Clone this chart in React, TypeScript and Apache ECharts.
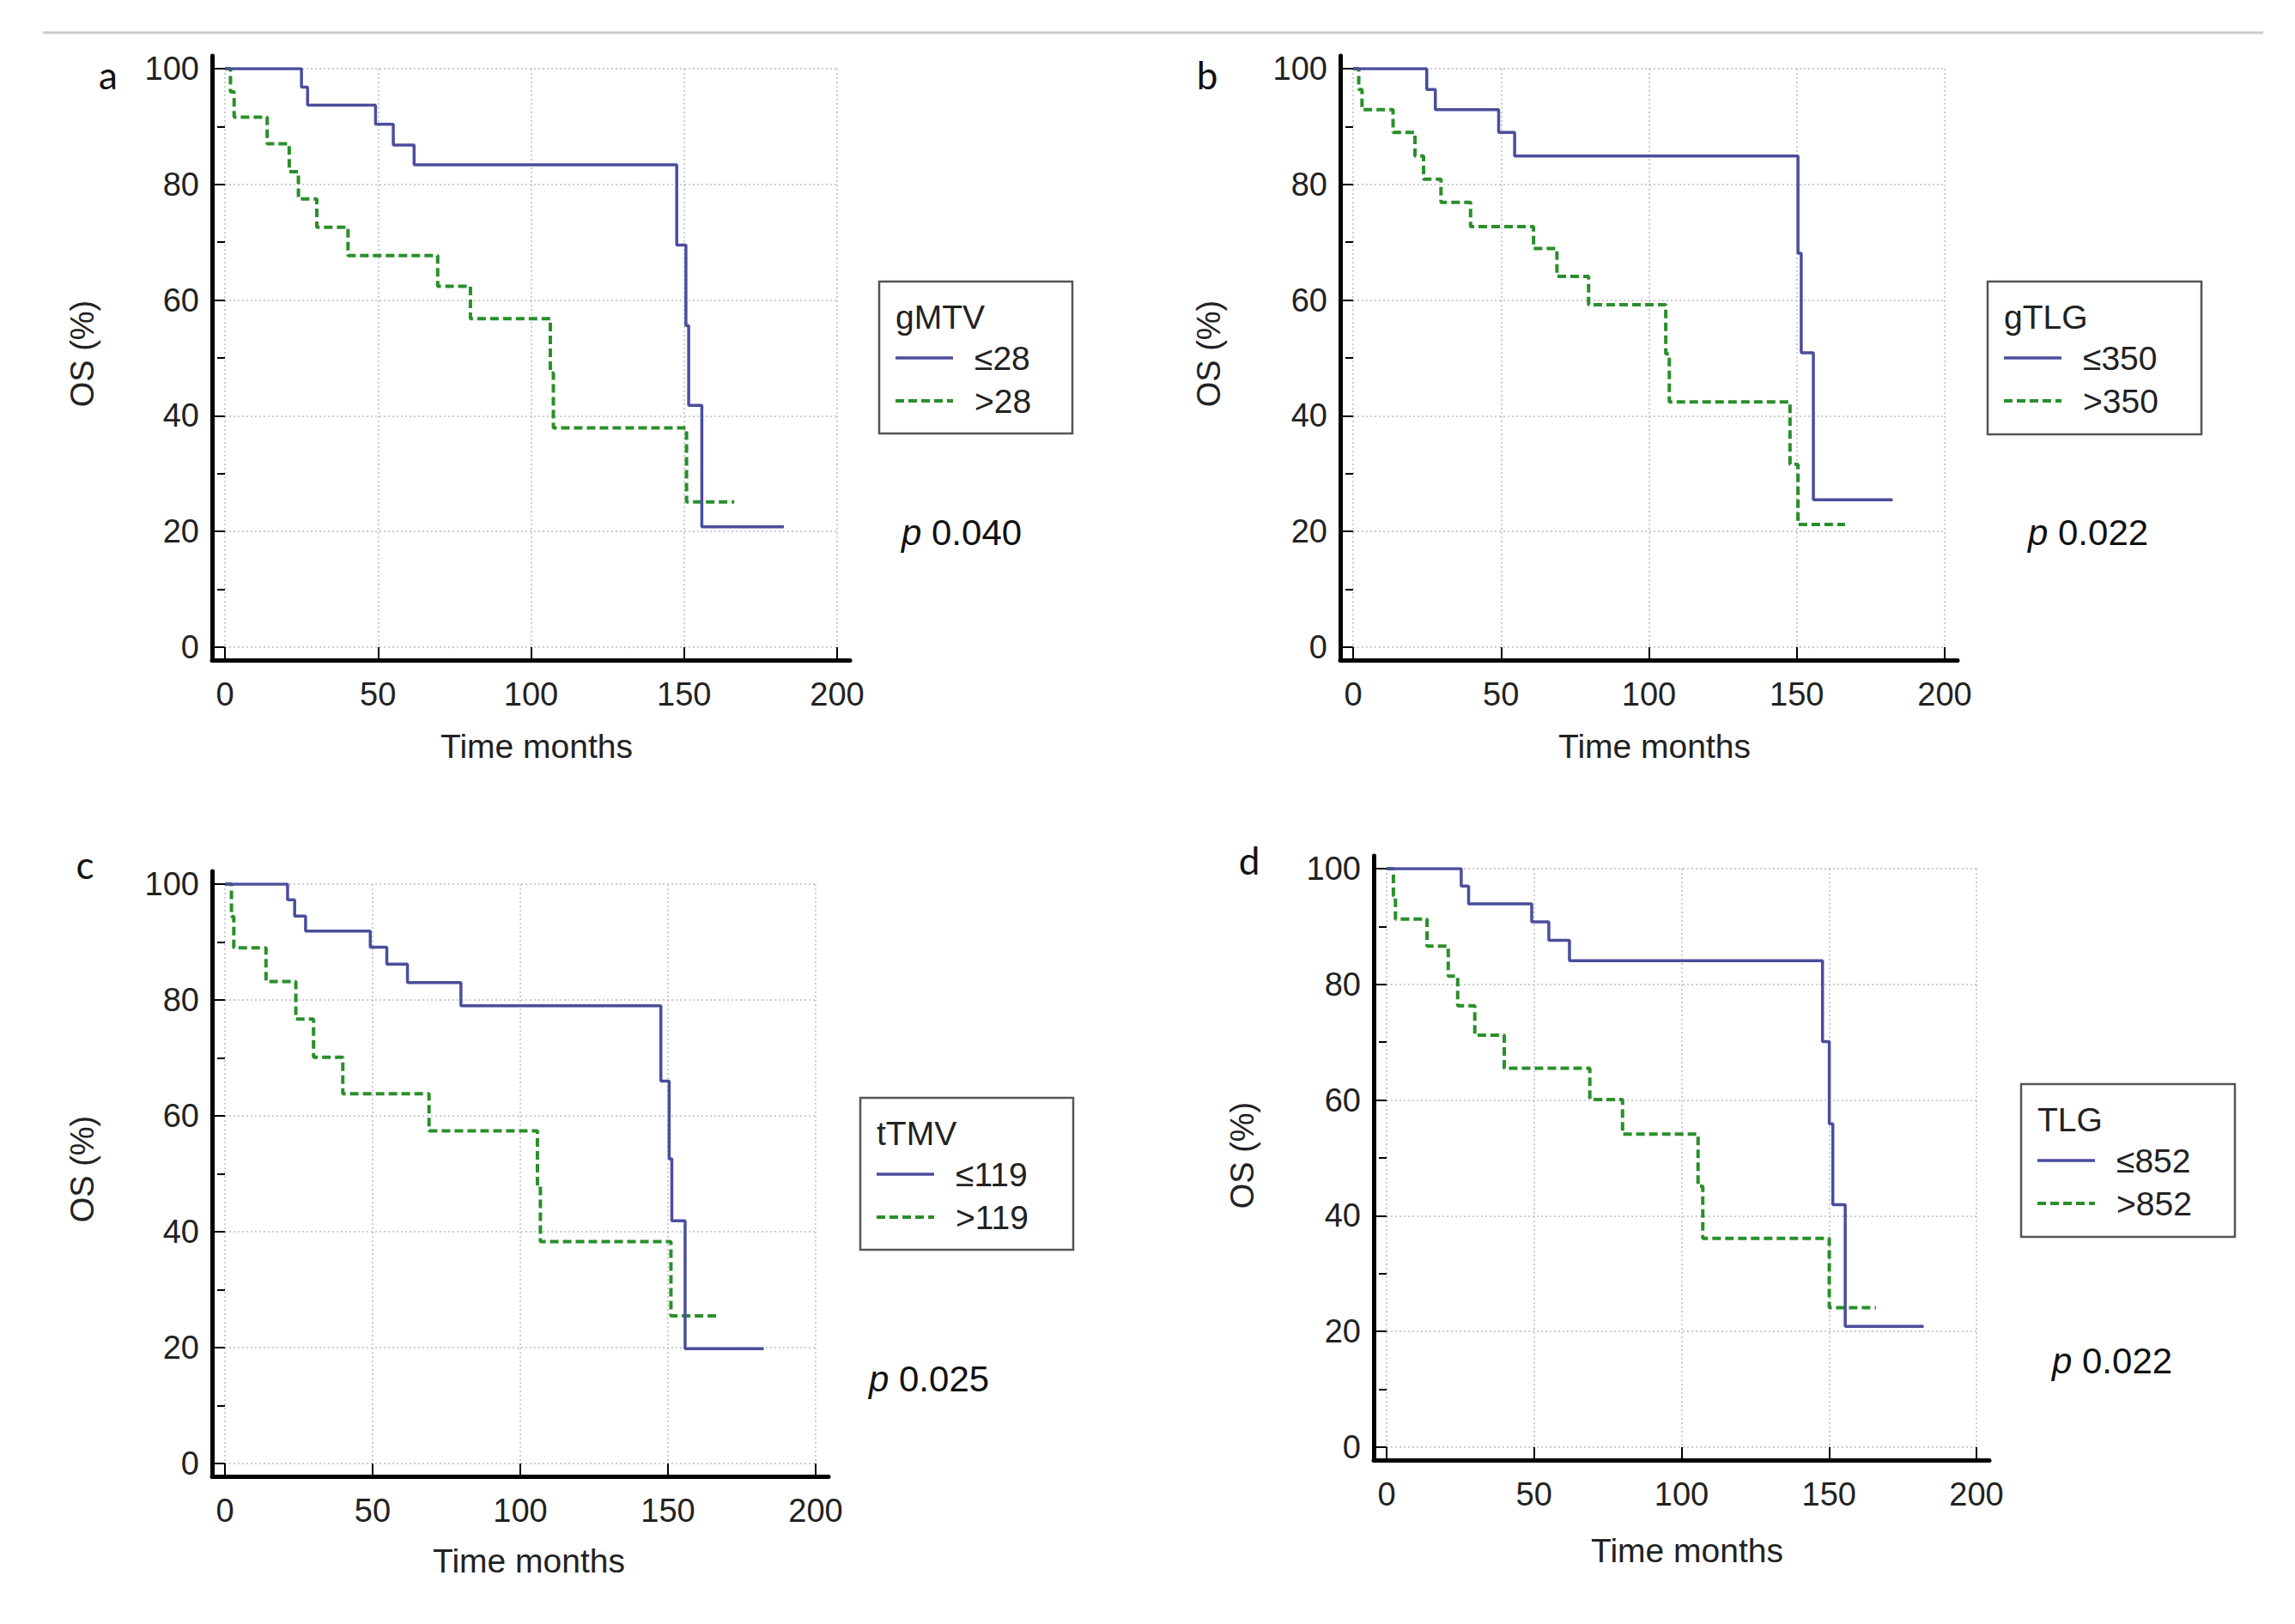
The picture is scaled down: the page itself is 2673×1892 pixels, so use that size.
import React, { useEffect, useRef } from "react";
import * as echarts from "echarts";

// ---------- data ----------
// Panel a: gMTV
const aLowTime = [0, 25, 27, 49.2, 55, 61.8, 147.6, 150.6, 151.5, 155.8, 182.6];
const aLowOS = [100, 96.8, 93.7, 90.4, 86.8, 83.4, 69.5, 55.6, 41.8, 20.8, 20.8];
const aHighTime = [0, 1.8, 3, 13.8, 21, 24, 30, 40.2, 69.5, 80.2, 106.3, 107.3, 150.8, 166.4];
const aHighOS = [100, 96, 91.6, 87, 82.2, 77.5, 72.6, 67.7, 62.4, 56.8, 47.4, 37.9, 25.1, 25.1];

// Panel b: gTLG
const bLowTime = [0, 24.9, 27.8, 49.2, 54.6, 150.4, 151.5, 155.6, 182.4];
const bLowOS = [100, 96.4, 92.9, 89, 84.9, 68.1, 50.9, 25.5, 25.5];
const bHighTime = [0, 1.9, 3, 13.5, 20.9, 23.8, 29.7, 39.7, 61, 68.9, 79.6, 105.7, 106.9, 147.7, 150.4, 166.3];
const bHighOS = [100, 96.4, 92.9, 89, 84.9, 80.9, 76.9, 72.7, 68.9, 64.1, 59.2, 50.7, 42.4, 31.6, 21.2, 21.2];

// Panel c: tTMV
const cLowTime = [0, 21.2, 23.6, 27.3, 49.2, 54.8, 61.8, 79.9, 147.6, 150.4, 151.3, 155.8, 182.4];
const cLowOS = [100, 97.3, 94.5, 91.9, 89.1, 86.2, 83, 79, 66, 52.6, 41.9, 19.8, 19.8];
const cHighTime = [0, 2.2, 3, 13.9, 24, 30, 39.9, 69.1, 105.8, 106.8, 151, 166.6];
const cHighOS = [100, 94.4, 89, 83.2, 76.7, 70.1, 63.8, 57.4, 47.9, 38.3, 25.5, 25.5];

// Panel d: TLG
const dLowTime = [0, 25.3, 27.8, 49.2, 55, 62, 147.8, 150.1, 151.3, 155.5, 182.1];
const dLowOS = [100, 97, 93.9, 90.8, 87.6, 84.1, 70.1, 55.9, 41.9, 20.9, 20.9];
const dHighTime = [0, 2.3, 3, 13.7, 20.9, 24.1, 29.9, 39.9, 68.9, 80, 105.6, 107.2, 150.1, 165.9];
const dHighOS = [100, 95.3, 91.3, 86.6, 81.4, 76.3, 71.2, 65.5, 60.1, 54.1, 45.1, 36.1, 24.1, 24.1];

const panelLetters = ["a", "b", "c", "d"];
const legendTitles = ["gMTV", "gTLG", "tTMV", "TLG"];
const lowLabels = ["≤28", "≤350", "≤119", "≤852"];
const highLabels = [">28", ">350", ">119", ">852"];
const pValues = ["0.040", "0.022", "0.025", "0.022"];

const xMin = 0;
const xMax = 200;
const xStep = 50;
const yMin = 0;
const yMax = 100;
const yStep = 20;
const xName = "Time months";
const yName = "OS (%)";

const lowTimes = [aLowTime, bLowTime, cLowTime, dLowTime];
const lowOS = [aLowOS, bLowOS, cLowOS, dLowOS];
const highTimes = [aHighTime, bHighTime, cHighTime, dHighTime];
const highOS = [aHighOS, bHighOS, cHighOS, dHighOS];

// ---------- layout (pixels) ----------
const LAYOUT = [
  { x0: 262, x1: 975, yTop: 80, yBot: 754, letter: [126, 87], legend: [1024, 328, 225, 177], p: [1050, 620], name: [625, 869], os: [96, 412] },
  { x0: 1576, x1: 2265, yTop: 80, yBot: 754, letter: [1406, 87], legend: [2315, 328, 249, 178], p: [2362, 620], name: [1927, 869], os: [1408, 412] },
  { x0: 262, x1: 950, yTop: 1030, yBot: 1705, letter: [99, 1007], legend: [1002, 1279, 248, 177], p: [1012, 1606], name: [616, 1818], os: [96, 1362] },
  { x0: 1615, x1: 2302, yTop: 1012, yBot: 1686, letter: [1455, 1002], legend: [2354, 1263, 249, 178], p: [2390, 1585], name: [1965, 1806], os: [1447, 1346] },
];

const BLUE = "#4b4d9c";
const GREEN = "#2a8f2a";
const FONT = "'Liberation Sans', Arial, sans-serif";
const OFF = 15;

function zip(t: number[], s: number[]) {
  return t.map((v, i) => [v, s[i]]);
}

function buildOption() {
  const grid: any[] = [];
  const xAxis: any[] = [];
  const yAxis: any[] = [];
  const series: any[] = [];
  const graphic: any[] = [];

  graphic.push({
    type: "line",
    shape: { x1: 50, y1: 38, x2: 2636, y2: 38 },
    style: { stroke: "#cccccc", lineWidth: 3 },
  });

  LAYOUT.forEach((L, i) => {
    const w = L.x1 - L.x0;
    const h = L.yBot - L.yTop;
    // outer grid: axis lines only
    grid.push({ left: L.x0 - OFF, top: L.yTop - OFF, width: w + 2 * OFF, height: h + 2 * OFF });
    // inner grid: data
    grid.push({ left: L.x0, top: L.yTop, width: w, height: h });
    const go = i * 2;
    const gi = i * 2 + 1;
    xAxis.push({
      gridIndex: go, type: "value", min: 0, max: 1,
      axisLine: { show: true, onZero: false, lineStyle: { color: "#000", width: 5 } },
      axisTick: { show: false }, axisLabel: { show: false }, splitLine: { show: false },
    });
    yAxis.push({
      gridIndex: go, type: "value", min: 0, max: 1,
      axisLine: { show: true, onZero: false, lineStyle: { color: "#000", width: 5 } },
      axisTick: { show: false }, axisLabel: { show: false }, splitLine: { show: false },
    });
    xAxis.push({
      gridIndex: gi, type: "value", min: xMin, max: xMax, interval: xStep,
      axisLine: { show: false, onZero: false },
      axisTick: { show: true, inside: false, length: OFF, lineStyle: { color: "#000", width: 2 } },
      axisLabel: { show: true, margin: 36, fontSize: 38, fontFamily: FONT, color: "#222" },
      splitLine: { show: true, lineStyle: { color: "#bdbdbd", width: 1.5, type: [2, 3] } },
    });
    yAxis.push({
      gridIndex: gi, type: "value", min: yMin, max: yMax, interval: yStep,
      axisLine: { show: false, onZero: false },
      axisTick: { show: true, inside: false, length: OFF, lineStyle: { color: "#000", width: 2 } },
      minorTick: { show: true, splitNumber: 2, length: 9, lineStyle: { color: "#000", width: 2 } },
      axisLabel: { show: true, margin: 30, fontSize: 38, fontFamily: FONT, color: "#222" },
      splitLine: { show: true, lineStyle: { color: "#bdbdbd", width: 1.5, type: [2, 3] } },
    });

    series.push({
      name: legendTitles[i] + " " + highLabels[i],
      type: "line", xAxisIndex: xAxis.length - 1, yAxisIndex: yAxis.length - 1,
      data: zip(highTimes[i], highOS[i]), step: "end", symbol: "none",
      lineStyle: { color: GREEN, width: 4, type: [10, 5] }, z: 3,
    });
    series.push({
      name: legendTitles[i] + " " + lowLabels[i],
      type: "line", xAxisIndex: xAxis.length - 1, yAxisIndex: yAxis.length - 1,
      data: zip(lowTimes[i], lowOS[i]), step: "end", symbol: "none",
      lineStyle: { color: BLUE, width: 3.5 }, z: 4,
    });

    // panel letter
    graphic.push({
      type: "text", x: L.letter[0], y: L.letter[1],
      style: { text: panelLetters[i], fontSize: 44, fontFamily: "Lato, 'Open Sans', sans-serif", fill: "#111", align: "center", verticalAlign: "middle" },
    });
    // axis names
    graphic.push({
      type: "text", x: L.name[0], y: L.name[1],
      style: { text: xName, fontSize: 39, fontFamily: FONT, fill: "#222", align: "center", verticalAlign: "middle" },
    });
    graphic.push({
      type: "text", x: L.os[0], y: L.os[1], rotation: Math.PI / 2,
      style: { text: yName, fontSize: 38, fontFamily: FONT, fill: "#222", align: "center", verticalAlign: "middle" },
    });
    // legend box
    const [lx, ly, lw, lh] = L.legend;
    graphic.push({
      type: "rect", shape: { x: lx, y: ly, width: lw, height: lh },
      style: { fill: "#fff", stroke: "#555", lineWidth: 2.5 }, z: 10,
    });
    graphic.push({
      type: "text", x: lx + 19, y: ly + 41, z: 11,
      style: { text: legendTitles[i], fontSize: 39, fontFamily: FONT, fill: "#222", align: "left", verticalAlign: "middle" },
    });
    graphic.push({
      type: "line", z: 11, shape: { x1: lx + 19, y1: ly + 89, x2: lx + 86, y2: ly + 89 },
      style: { stroke: BLUE, lineWidth: 3.5 },
    });
    graphic.push({
      type: "text", x: lx + 111, y: ly + 89, z: 11,
      style: { text: lowLabels[i], fontSize: 39, fontFamily: FONT, fill: "#222", align: "left", verticalAlign: "middle" },
    });
    graphic.push({
      type: "line", z: 11, shape: { x1: lx + 19, y1: ly + 139, x2: lx + 86, y2: ly + 139 },
      style: { stroke: GREEN, lineWidth: 4, lineDash: [10, 5] },
    });
    graphic.push({
      type: "text", x: lx + 111, y: ly + 139, z: 11,
      style: { text: highLabels[i], fontSize: 39, fontFamily: FONT, fill: "#222", align: "left", verticalAlign: "middle" },
    });
    // p value
    graphic.push({
      type: "text", x: L.p[0], y: L.p[1],
      style: {
        text: "{i|p} " + pValues[i],
        fontSize: 42, fontFamily: FONT, fill: "#111", align: "left", verticalAlign: "middle",
        rich: { i: { fontStyle: "italic", fontSize: 42, fontFamily: FONT, fill: "#111" } },
      },
    });
  });

  return {
    animation: false,
    backgroundColor: "#ffffff",
    grid, xAxis, yAxis, series, graphic,
  };
}

export default function App() {
  const ref = useRef<HTMLDivElement>(null);
  useEffect(() => {
    if (!ref.current) return;
    const chart = echarts.init(ref.current, undefined, { renderer: "svg" });
    chart.setOption(buildOption());
    return () => chart.dispose();
  }, []);
  return (
    <div
      ref={ref}
      style={{ position: "fixed", left: 0, top: 0, width: 2673, height: 1892, background: "#fff" }}
    />
  );
}
